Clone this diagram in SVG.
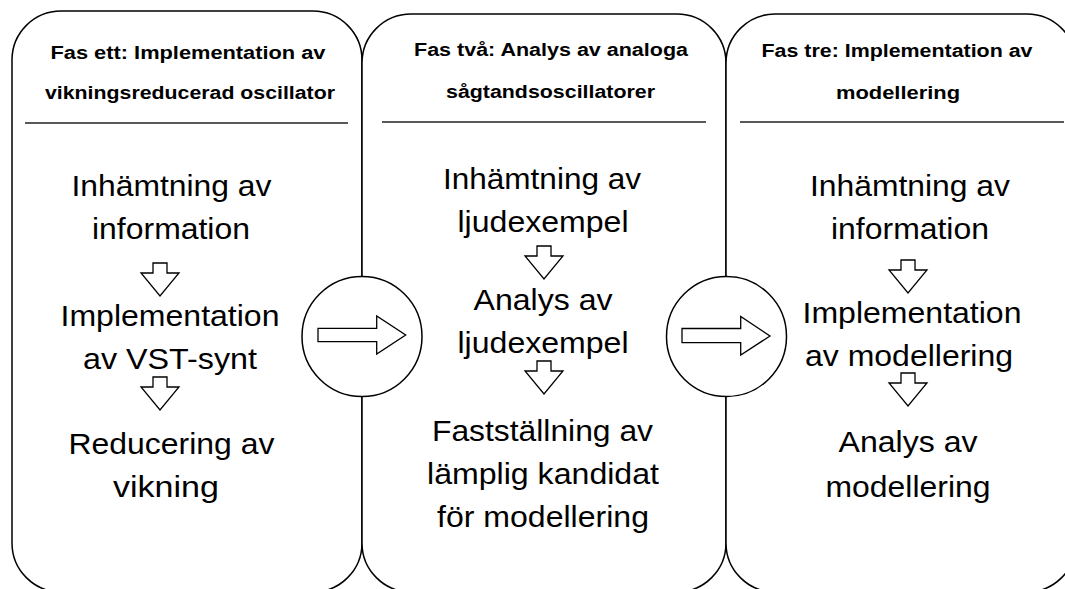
<svg xmlns="http://www.w3.org/2000/svg" width="1065" height="589" viewBox="0 0 1065 589">
<style>
.panel{fill:#fff;stroke:#000;stroke-width:1.5}
.sep{stroke:#222;stroke-width:1.5}
.hd{font-family:"Liberation Sans",Arial,Helvetica,sans-serif;font-weight:bold;font-size:17.5px;fill:#000;text-anchor:middle}
.bd{font-family:"Liberation Sans",Arial,Helvetica,sans-serif;font-size:30px;fill:#000;text-anchor:middle}
.circ{fill:#fff;stroke:#000;stroke-width:1.5}
.barrow{fill:#fff;stroke:#000;stroke-width:1.3;stroke-linejoin:miter}
</style>
<defs>
<path id="down" d="M -7 0 H 7 V 10 H 19 L 0 33 L -19 10 H -7 Z"/>
</defs>
<g id="phase1">
<rect class="panel" x="12" y="11" width="350" height="581" rx="49" ry="49"/>
<text class="hd" x="188" y="59" textLength="275" lengthAdjust="spacingAndGlyphs">Fas ett: Implementation av</text>
<text class="hd" x="190" y="99" textLength="290" lengthAdjust="spacingAndGlyphs">vikningsreducerad oscillator</text>
<line class="sep" x1="25" y1="123" x2="348" y2="123"/>
<text class="bd" x="171.5" y="196" textLength="200" lengthAdjust="spacingAndGlyphs">Inhämtning av</text>
<text class="bd" x="171" y="239" textLength="158" lengthAdjust="spacingAndGlyphs">information</text>
<use href="#down" class="barrow" x="160" y="263"/>
<text class="bd" x="170" y="326" textLength="219" lengthAdjust="spacingAndGlyphs">Implementation</text>
<text class="bd" x="170" y="369" textLength="174" lengthAdjust="spacingAndGlyphs">av VST-synt</text>
<use href="#down" class="barrow" x="160" y="377"/>
<text class="bd" x="171.5" y="454" textLength="206" lengthAdjust="spacingAndGlyphs">Reducering av</text>
<text class="bd" x="166" y="497" textLength="106" lengthAdjust="spacingAndGlyphs">vikning</text>
</g>
<g id="phase2">
<rect class="panel" x="362" y="14" width="364" height="578" rx="49" ry="49"/>
<text class="hd" x="551" y="56" textLength="274" lengthAdjust="spacingAndGlyphs">Fas två: Analys av analoga</text>
<text class="hd" x="550.5" y="98" textLength="209" lengthAdjust="spacingAndGlyphs">sågtandsoscillatorer</text>
<line class="sep" x1="382" y1="122" x2="706" y2="122"/>
<text class="bd" x="542" y="189" textLength="198" lengthAdjust="spacingAndGlyphs">Inhämtning av</text>
<text class="bd" x="543" y="232" textLength="171" lengthAdjust="spacingAndGlyphs">ljudexempel</text>
<use href="#down" class="barrow" x="544" y="246"/>
<text class="bd" x="543" y="310" textLength="139" lengthAdjust="spacingAndGlyphs">Analys av</text>
<text class="bd" x="543" y="353" textLength="171" lengthAdjust="spacingAndGlyphs">ljudexempel</text>
<use href="#down" class="barrow" x="544" y="361"/>
<text class="bd" x="542.5" y="441" textLength="221" lengthAdjust="spacingAndGlyphs">Fastställning av</text>
<text class="bd" x="543" y="484" textLength="232" lengthAdjust="spacingAndGlyphs">lämplig kandidat</text>
<text class="bd" x="543" y="527" textLength="212" lengthAdjust="spacingAndGlyphs">för modellering</text>
</g>
<g id="phase3">
<rect class="panel" x="726" y="14" width="350" height="578" rx="49" ry="49"/>
<text class="hd" x="897" y="57" textLength="271" lengthAdjust="spacingAndGlyphs">Fas tre: Implementation av</text>
<text class="hd" x="898" y="99" textLength="124" lengthAdjust="spacingAndGlyphs">modellering</text>
<line class="sep" x1="740" y1="122" x2="1064" y2="122"/>
<text class="bd" x="910" y="196" textLength="200" lengthAdjust="spacingAndGlyphs">Inhämtning av</text>
<text class="bd" x="910" y="239" textLength="158" lengthAdjust="spacingAndGlyphs">information</text>
<use href="#down" class="barrow" x="908" y="260"/>
<text class="bd" x="912" y="323" textLength="219" lengthAdjust="spacingAndGlyphs">Implementation</text>
<text class="bd" x="909" y="366" textLength="208" lengthAdjust="spacingAndGlyphs">av modellering</text>
<use href="#down" class="barrow" x="908" y="373"/>
<text class="bd" x="908" y="452" textLength="139" lengthAdjust="spacingAndGlyphs">Analys av</text>
<text class="bd" x="908" y="497" textLength="165" lengthAdjust="spacingAndGlyphs">modellering</text>
</g>
<g id="connectors">
<g id="transition1">
<circle class="circ" cx="362" cy="336.5" r="60"/>
<path class="barrow" d="M 318 328.3 H 376.7 V 316 L 405.7 335 L 376.7 354 V 341.7 H 318 Z"/>
</g>
<g id="transition2">
<circle class="circ" cx="726.5" cy="336.5" r="60"/>
<path class="barrow" d="M 682 328.5 H 740.7 V 316.5 L 770 336 L 740.7 355 V 342.7 H 682 Z"/>
</g>
</g>
</svg>
